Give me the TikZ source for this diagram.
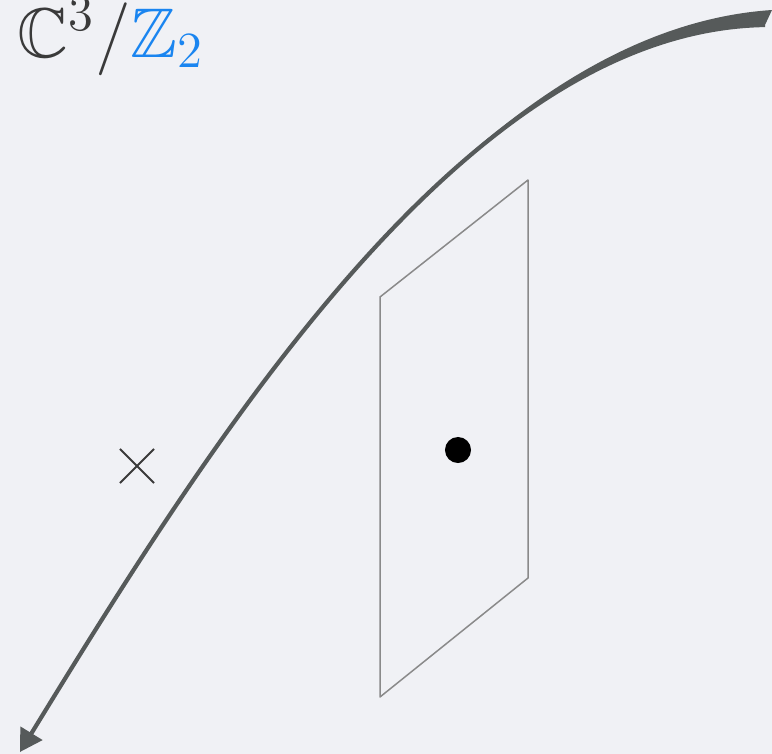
\documentclass[tikz,border=0pt]{standalone}
\usepackage{amsmath}
\usepackage{amssymb}
\usepackage{tikz}
\usetikzlibrary{arrows.meta, shapes.misc}

\definecolor{bgray}{RGB}{240,241,245}
\definecolor{curvegray}{RGB}{86,90,90}
\definecolor{textgray}{RGB}{58,58,58}
\definecolor{zblue}{RGB}{26,133,240}
\definecolor{planegray}{RGB}{138,138,138}

\begin{document}
\begin{tikzpicture}[
  x=0.01cm, y=-0.01cm,
  orbit/.style={draw=curvegray, line width=0.42mm, -{Triangle[length=2.2mm, width=2.5mm]}},
  taper/.style={fill=curvegray, draw=none},
  plane/.style={draw=planegray, line width=0.15mm, line join=round},
  point/.style={circle, fill=black, inner sep=0pt, minimum size=2.6mm},
  mark cross/.style={cross out, draw=textgray, line width=0.2mm, minimum size=3.2mm, inner sep=0pt},
  title/.style={anchor=base west, inner sep=0pt, text=textgray, font=\fontsize{20}{24}\selectfont}
]

% background
\fill[bgray] (0,0) rectangle (772,754);
\useasboundingbox (0,0) rectangle (772,754);

% title
\node[title] (label) at (17,57) {$\mathbb{C}^3/\textcolor{zblue}{\mathbb{Z}_2}$};

% curve
\coordinate (top) at (765,25);
\coordinate (topup) at (772,10);
\coordinate (tip) at (20,752);
\fill[taper] (tip) .. controls (219,427) and (470,30) .. (top)
  -- (topup) .. controls (470,30) and (219,427) .. (tip) -- cycle;
\draw[orbit] (top) .. controls (470,30) and (219,427) .. (tip);

% plane
\coordinate (p1) at (380,297);
\coordinate (p2) at (528,180);
\coordinate (p3) at (528,578);
\coordinate (p4) at (380,697);
\draw[plane] (p1) -- (p2) -- (p3) -- (p4) -- cycle;

% points
\node[point] (dot) at (458,450) {};
\node[mark cross] (cross) at (137,466) {};

\end{tikzpicture}
\end{document}
